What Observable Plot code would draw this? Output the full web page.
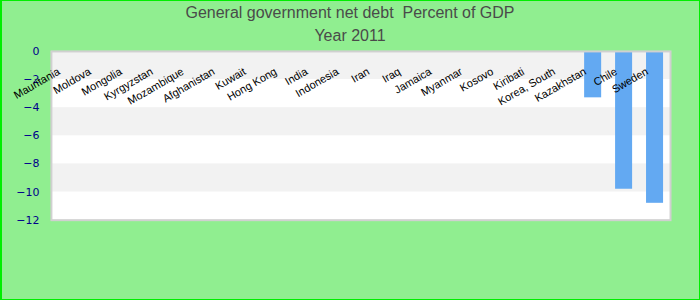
<!DOCTYPE html>
<html>
<head>
<meta charset="utf-8">
<script src="https://cdn.jsdelivr.net/npm/d3@7"></script>
<script src="https://cdn.jsdelivr.net/npm/@observablehq/plot@0.6"></script>
<style>
  html, body { margin: 0; padding: 0; background: #90ee90; }
  #wrap { position: relative; width: 700px; height: 300px; box-sizing: border-box;
          border: 1px solid #00ee00; border-left-width: 2px; background: #90ee90; overflow: hidden; }
  .ttl { position: absolute; left: -2px; width: 700px; text-align: center;
         font-family: "Liberation Sans", Arial, sans-serif; font-size: 16px; line-height: 16px; color: #4a4a4a; }
  #chart { position: absolute; left: -2px; top: 0; }
</style>
</head>
<body>
<div id="wrap">
  <div class="ttl" style="top:4px">General government net debt&nbsp; Percent of GDP</div>
  <div class="ttl" style="top:27px">Year 2011</div>
  <div id="chart"></div>
</div>
<script>
const countries = ["Mauritania", "Moldova", "Mongolia", "Kyrgyzstan", "Mozambique", "Afghanistan",
  "Kuwait", "Hong Kong", "India", "Indonesia", "Iran", "Iraq", "Jamaica", "Myanmar", "Kosovo",
  "Kiribati", "Korea, South", "Kazakhstan", "Chile", "Sweden"];
const debt = [null, null, null, null, null, null, null, null, null, null, null, null, null, null,
  null, null, null, -3.3, -9.8, -10.8];
const yTicks = [0, -2, -4, -6, -8, -10, -12];

const rows = countries.map((c, i) => ({country: c, value: debt[i]}));
const bands = [];
for (let i = 0; i + 1 < yTicks.length; i += 2) bands.push({y1: yTicks[i], y2: yTicks[i + 1]});

const chart = Plot.plot({
  width: 700,
  height: 298,
  marginTop: 50,
  marginBottom: 79,
  marginLeft: 51,
  marginRight: 29,
  style: {background: "transparent", fontFamily: "'DejaVu Sans', sans-serif"},
  x: {type: "band", domain: countries, paddingInner: 0.45, paddingOuter: 0.225, round: false, axis: null},
  y: {domain: [-12, 0], axis: null},
  marks: [
    Plot.frame({fill: "white"}),
    Plot.rect(bands, {y1: "y1", y2: "y2", fill: "#f2f2f2"}),
    Plot.barY(rows.filter(d => d.value != null), {x: "country", y1: 0, y2: "value", fill: "#63a9f2"}),
    Plot.frame({stroke: "#d0d0d0", strokeWidth: 2}),
    Plot.axisY({ticks: yTicks, tickSize: 0, tickPadding: 12, fontSize: 11, fill: "#00008b",
      fontFamily: "'DejaVu Sans', sans-serif", label: null}),
    Plot.text(countries, {x: d => d, frameAnchor: "top", dy: 15.5, dx: -10, rotate: -30,
      textAnchor: "end", fontSize: 11, fill: "black", fontFamily: "'Liberation Sans', Arial, sans-serif"})
  ]
});
document.getElementById("chart").appendChild(chart);
</script>
</body>
</html>
